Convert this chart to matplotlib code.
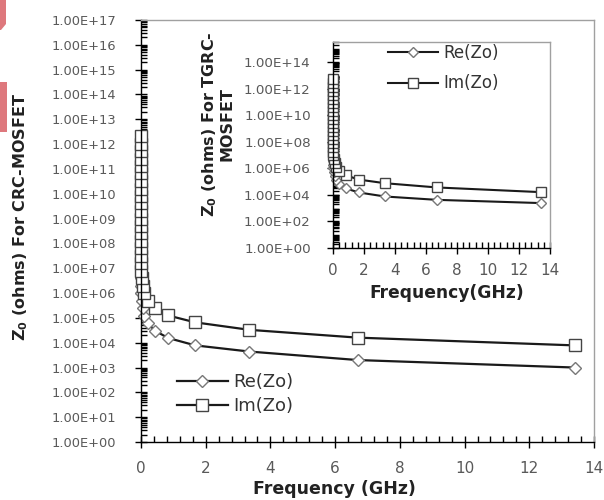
import matplotlib
matplotlib.use('Agg')
import matplotlib.pyplot as plt
from matplotlib.ticker import MultipleLocator, LogLocator, FixedLocator, FuncFormatter, NullFormatter
from matplotlib.patches import Polygon

# frequencies (GHz) of the sweep, same for both devices
freq = [13.4, 6.7, 3.35, 1.675, 0.8375, 0.419, 0.209, 0.105, 0.0524, 0.0262,
        0.0131, 0.00654, 0.00327, 0.00164, 8.2e-4, 4.1e-4, 2.0e-4, 1.0e-4,
        5.1e-5, 2.6e-5, 1.3e-5, 6.4e-6, 3.2e-6, 1.6e-6, 8.0e-7, 4.0e-7,
        2.0e-7, 1.0e-7, 5.0e-8]

# CRC-MOSFET (main plot)
re_crc = [1.0e3, 2.0e3, 4.4e3, 7.8e3, 1.55e4, 3.1e4, 6.2e4, 1.2e5, 2.5e5, 5.0e5,
          1.0e6, 2.0e6, 4.0e6, 8.0e6, 1.6e7, 3.2e7, 6.4e7, 1.3e8, 2.6e8, 5.1e8,
          1.0e9, 2.0e9, 4.1e9, 8.2e9, 1.6e10, 3.3e10, 6.6e10, 1.3e11, 2.6e11]
im_crc = [7.8e3, 1.6e4, 3.3e4, 6.6e4, 1.25e5, 2.5e5, 5.0e5, 1.0e6, 2.0e6, 4.0e6,
          8.0e6, 1.6e7, 3.2e7, 6.4e7, 1.3e8, 2.6e8, 5.1e8, 1.0e9, 2.0e9, 4.1e9,
          8.2e9, 1.6e10, 3.3e10, 6.6e10, 1.3e11, 2.6e11, 5.2e11, 1.0e12, 2.1e12]

# TGRC-MOSFET (inset)
re_tgrc = [2.4e3, 4.2e3, 7.5e3, 1.5e4, 3.0e4, 6.0e4, 1.2e5, 2.4e5, 4.8e5, 9.6e5,
           1.9e6, 3.8e6, 7.7e6, 1.5e7, 3.1e7, 6.2e7, 1.2e8, 2.5e8, 4.9e8, 9.8e8,
           2.0e9, 3.9e9, 7.9e9, 1.6e10, 3.1e10, 6.3e10, 1.3e11, 2.5e11, 5.0e11]
im_tgrc = [1.6e4, 3.6e4, 7.5e4, 1.4e5, 2.9e5, 5.8e5, 1.2e6, 2.3e6, 4.6e6, 9.2e6,
           1.8e7, 3.7e7, 7.4e7, 1.5e8, 3.0e8, 5.9e8, 1.2e9, 2.4e9, 4.7e9, 9.5e9,
           1.9e10, 3.8e10, 7.6e10, 1.5e11, 3.0e11, 6.1e11, 1.2e12, 2.4e12, 4.9e12]

x_ticks = [0, 2, 4, 6, 8, 10, 12, 14]
main_yticks = [10.0 ** k for k in range(0, 18)]
inset_yticks = [10.0 ** k for k in range(0, 15, 2)]

LINE = '#1a1a1a'
TICKC = '#595959'
FRAME = '#a0a0a0'


def sci(v, pos):
    return f'{v:.2E}'


def style_axes(ax, ylab_size, xlab_size, ypad, xpad):
    ax.set_yscale('log')
    ax.xaxis.set_major_locator(FixedLocator(x_ticks))
    ax.xaxis.set_minor_locator(MultipleLocator(0.4))
    ax.yaxis.set_major_formatter(FuncFormatter(sci))
    ax.yaxis.set_minor_locator(LogLocator(base=10, subs=range(2, 10), numticks=100))
    ax.yaxis.set_minor_formatter(NullFormatter())
    ax.tick_params(axis='y', which='major', direction='inout', length=8, width=1,
                   colors='black', labelcolor=TICKC, labelsize=ylab_size, pad=ypad)
    ax.tick_params(axis='y', which='minor', direction='in', length=4, width=1, colors='black')
    ax.tick_params(axis='x', which='major', direction='inout', length=8, width=1,
                   colors='black', labelcolor=TICKC, labelsize=xlab_size, pad=xpad)
    ax.tick_params(axis='x', which='minor', direction='in', length=4, width=1, colors='black')
    ax.spines['left'].set_color('black')
    ax.spines['bottom'].set_color('black')
    ax.spines['top'].set_color(FRAME)
    ax.spines['right'].set_color(FRAME)
    for s in ax.spines.values():
        s.set_linewidth(1.0)


fig = plt.figure(figsize=(6.04, 5.0), dpi=100)

# main plot
ax = fig.add_axes([141 / 604, 1 - 442 / 500, 453 / 604, 422 / 500])
ax.plot(freq, re_crc, color=LINE, lw=1.6, marker='D', ms=6, mfc='white',
        mec='#777777', mew=1.0, label='Re(Zo)', clip_on=False)
ax.plot(freq, im_crc, color=LINE, lw=1.6, marker='s', ms=8, mfc='white',
        mec='#444444', mew=1.0, label='Im(Zo)', clip_on=False)
ax.set_xlim(0, 14)
ax.set_ylim(1, 1e17)
style_axes(ax, 9.4, 11, 14, 10)
ax.yaxis.set_major_locator(FixedLocator(main_yticks))
ax.set_xlabel('Frequency (GHz)', fontsize=12.5, fontweight='bold', color='#222222')
ax.xaxis.set_label_coords(0.428, -0.09)
ax.set_ylabel('Z$_\\mathbf{0}$ (ohms) For CRC-MOSFET', fontsize=11.5, fontweight='bold', color='#222222')
ax.yaxis.set_label_coords(-0.245, 0.533)
ax.legend(loc='upper left', bbox_to_anchor=(177 / 604, 1 - 373 / 500),
          bbox_transform=fig.transFigure, frameon=False, fontsize=13,
          borderpad=0, borderaxespad=0, handlelength=2.8, handletextpad=0.3,
          labelspacing=0.35, labelcolor='#333333')

# inset plot
axi = fig.add_axes([333 / 604, 1 - 248 / 500, 217 / 604, 206 / 500])
axi.plot(freq, re_tgrc, color=LINE, lw=1.5, marker='D', ms=5, mfc='white',
         mec='#777777', mew=1.0, label='Re(Zo)', clip_on=False)
axi.plot(freq, im_tgrc, color=LINE, lw=1.5, marker='s', ms=7, mfc='white',
         mec='#444444', mew=1.0, label='Im(Zo)', clip_on=False)
axi.set_xlim(0, 14)
axi.set_ylim(1, 10 ** 15.5)
style_axes(axi, 9.7, 11, 12, 7)
axi.yaxis.set_major_locator(FixedLocator(inset_yticks))
axi.set_xlabel('Frequency(GHz)', fontsize=12.3, fontweight='bold', color='#222222')
axi.xaxis.set_label_coords(0.525, -0.175)
axi.set_ylabel('Z$_\\mathbf{0}$ (ohms) For TGRC-\nMOSFET', fontsize=11.5,
               fontweight='bold', color='#222222', linespacing=1.0)
axi.yaxis.set_label_coords(-0.456, 0.6)
axi.legend(loc='upper left', bbox_to_anchor=(388 / 604, 1 - 44 / 500),
           bbox_transform=fig.transFigure, frameon=False, fontsize=12,
           borderpad=0, borderaxespad=0, handlelength=3.0, handletextpad=0.3,
           labelspacing=0.75, labelcolor='#333333')

# pink scraps at the left edge of the scan
pink = '#de787d'
fig.patches.append(Polygon([[0, 1], [6 / 604, 1], [6 / 604, 1 - 24 / 500], [1 / 604, 1 - 30 / 500], [0, 1 - 30 / 500]],
                           closed=True, transform=fig.transFigure, color=pink, lw=0))
fig.patches.append(Polygon([[0, 1 - 82 / 500], [7 / 604, 1 - 82 / 500], [7 / 604, 1 - 132 / 500], [0, 1 - 132 / 500]],
                           closed=True, transform=fig.transFigure, color=pink, lw=0))

fig.savefig('out.png', dpi=100)
